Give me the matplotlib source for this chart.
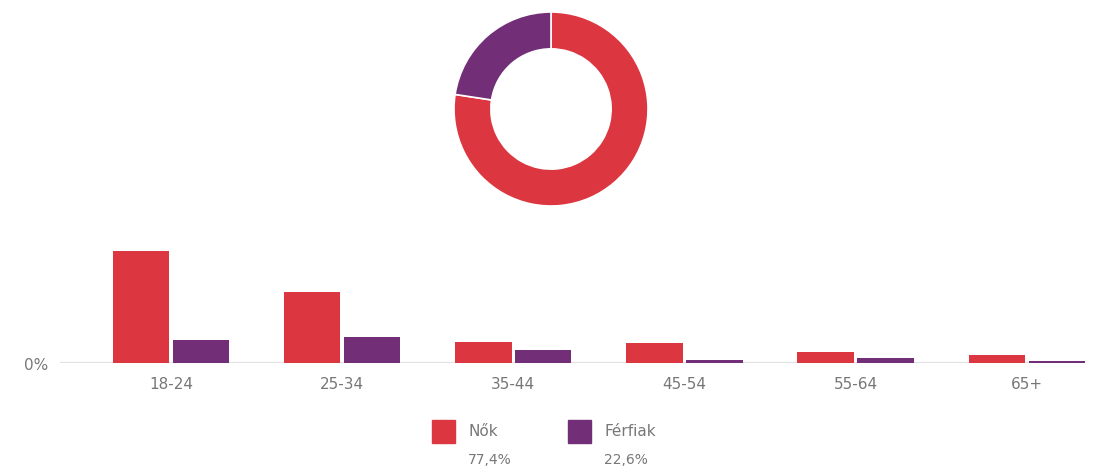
import numpy as np
import matplotlib.pyplot as plt
from matplotlib.patches import Rectangle

# data
age_groups = ["18-24", "25-34", "35-44", "45-54", "55-64", "65+"]
women = [35.6, 22.6, 6.7, 6.4, 3.5, 2.6]
men = [7.2, 8.2, 4.1, 1.0, 1.5, 0.6]
totals = [77.4, 22.6]
total_labels = ["77,4%", "22,6%"]
series_names = ["Nők", "Férfiak"]

RED = "#dc3640"
PURPLE = "#722f78"
GRAY = "#777777"

W, H = 1097, 472
fig = plt.figure(figsize=(W / 100, H / 100), dpi=100)

# donut
ax_d = fig.add_axes([454 / W, (H - 206) / H, 194 / W, 194 / H])
ax_d.pie(totals, colors=[RED, PURPLE], startangle=90, counterclock=False,
         radius=1.0, wedgeprops=dict(width=0.38, edgecolor="white", linewidth=1.2))
ax_d.set_xlim(-1, 1)
ax_d.set_ylim(-1, 1)
ax_d.set_aspect("equal")
ax_d.axis("off")

# bars
base_y = H - 363
ax = fig.add_axes([60 / W, base_y / H, 1025 / W, 135 / H])
x = np.arange(len(age_groups))
bw = 0.33
ax.bar(x - 0.175, women, width=bw, color=RED)
ax.bar(x + 0.175, men, width=bw, color=PURPLE)
ax.set_xlim(-0.648, 5.34)
ax.set_ylim(0, 135 / 3.15)
ax.axhline(0, color="#e2e2e2", lw=1.6, zorder=0)
for s in ax.spines.values():
    s.set_visible(False)
ax.set_yticks([])
ax.set_xticks(x)
ax.set_xticklabels(age_groups, color=GRAY, fontsize=11)
ax.tick_params(axis="x", length=0, pad=10)
fig.text(36 / W, (H - 366) / H, "0%", color=GRAY, fontsize=11, ha="center", va="center")

# legend
for i, (name, lab, col) in enumerate(zip(series_names, total_labels, [RED, PURPLE])):
    x0 = 432 + i * 136
    fig.patches.append(Rectangle((x0 / W, (H - 443) / H), 23 / W, 23 / H,
                                 transform=fig.transFigure, color=col))
    fig.text((x0 + 36) / W, (H - 432) / H, name, color=GRAY, fontsize=11, va="center")
    fig.text((x0 + 36) / W, (H - 460) / H, lab, color=GRAY, fontsize=10, va="center")

fig.savefig("out.png", dpi=100, facecolor="white")
